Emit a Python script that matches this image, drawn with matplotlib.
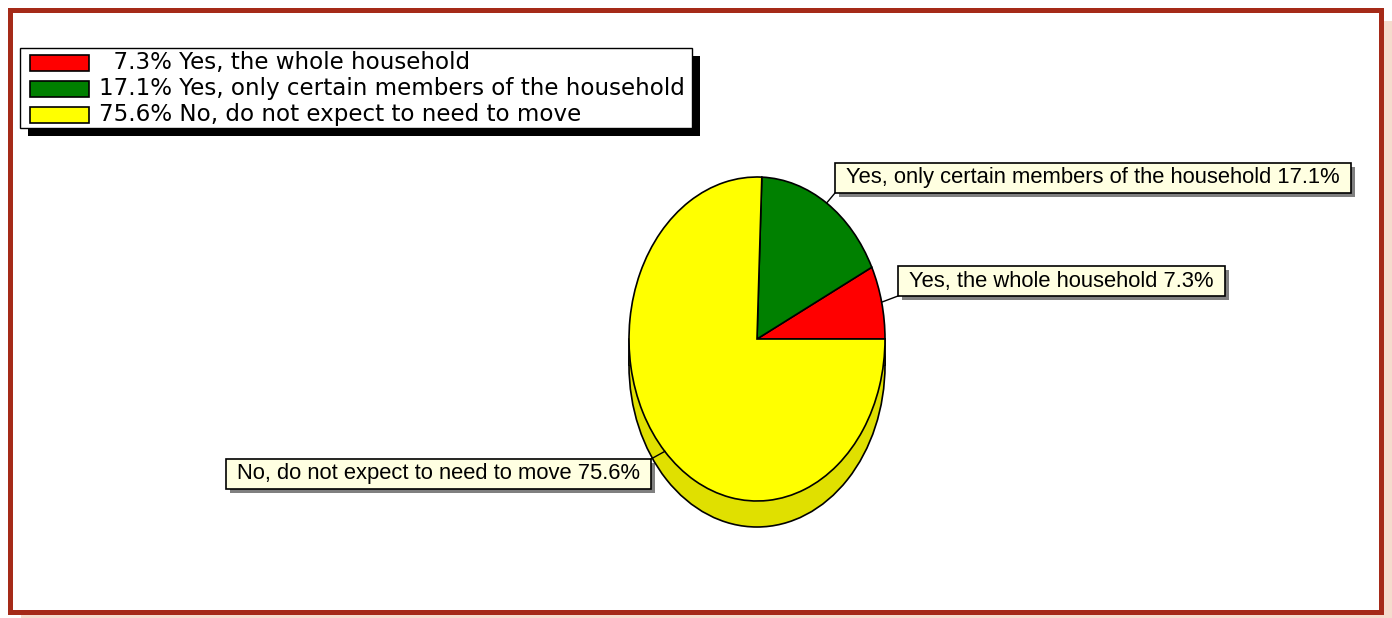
import numpy as np
import matplotlib
matplotlib.use("Agg")
import matplotlib.pyplot as plt
from matplotlib.patches import Rectangle, Ellipse

# survey answers and their shares (%)
answers = ["Yes, the whole household",
           "Yes, only certain members of the household",
           "No, do not expect to need to move"]
shares = [7.3, 17.1, 75.6]
colors = ["#ff0000", "#008000", "#ffff00"]

W, H = 1392, 618
fig = plt.figure(figsize=(W / 100, H / 100), dpi=100)

# -----------------------------
# background axes in pixel units (frame, legend, callouts)
# -----------------------------
bg = fig.add_axes([0, 0, 1, 1])
bg.set_xlim(0, W)
bg.set_ylim(H, 0)
bg.axis("off")

bg.add_patch(Rectangle((21, 21), W - 21, H - 21, fc="#f5dccd", ec="none"))
bg.add_patch(Rectangle((9.5, 9.5), 1371, 602, fc="white", ec="#a52a18", lw=3.6))

# legend box with a hard black drop shadow
bg.add_patch(Rectangle((28, 56), 672, 80, fc="black", ec="none"))
bg.add_patch(Rectangle((20, 48), 672, 80, fc="white", ec="black", lw=1))
for i, (name, v, c) in enumerate(zip(answers, shares, colors)):
    y = 63 + 26 * i
    bg.add_patch(Rectangle((30, y - 8), 59, 16, fc=c, ec="black", lw=1.2))
    pct = f"{v:.1f}%"
    pct = "  " * (5 - len(pct)) + pct
    bg.text(99, y, f"{pct} {name}", fontsize=16.55, family="DejaVu Sans",
            va="center", ha="left")

# -----------------------------
# pie: elliptical top face with a thin extruded side
# -----------------------------
cx, cy, rx, ry = 757, 339, 128, 162
depth = 26 / ry
xl, yl = (-1.3, 1.3), (-1.4, 1.3)
pie_ax = fig.add_axes([(cx + xl[0] * rx) / W, (H - cy + yl[0] * ry) / H,
                       (xl[1] - xl[0]) * rx / W, (yl[1] - yl[0]) * ry / H])

side = "#e0e000"
pie_ax.add_patch(Ellipse((0, -depth), 2, 2, fc=side, ec="black", lw=1.2, zorder=1))
pie_ax.add_patch(Rectangle((-1, -depth), 2, depth, fc=side, ec="none", zorder=1.5))
pie_ax.plot([-1, -1], [-depth, 0], color="black", lw=1.2, zorder=1.6)
pie_ax.plot([1, 1], [-depth, 0], color="black", lw=1.2, zorder=1.6)

wedges, _ = pie_ax.pie(shares, colors=colors, startangle=0, counterclock=True,
                       wedgeprops=dict(ec="black", lw=1.2, zorder=3))
pie_ax.set_aspect("auto")
pie_ax.set_xlim(*xl)
pie_ax.set_ylim(*yl)
pie_ax.axis("off")

# -----------------------------
# callout boxes with leader lines
# -----------------------------
callouts = [("left", 898, 281), ("left", 835, 178), ("right", 651, 474)]
pad = 11
renderer = fig.canvas.get_renderer()
to_bg = bg.transData.inverted()
to_pie = pie_ax.transData.inverted()
for w, name, v, (ha, x, y) in zip(wedges, answers, shares, callouts):
    tx = x + pad if ha == "left" else x - pad
    t = bg.text(tx, y, f"{name} {v:.1f}%", ha=ha, va="center", fontsize=15.85,
                family="Liberation Sans", zorder=5)
    bb = t.get_window_extent(renderer)
    (x0, _), (x1, _) = to_bg.transform([[bb.x0, bb.y0], [bb.x1, bb.y1]])
    left, right = x0 - pad, x1 + pad
    top, bot = y - 15, y + 15
    bg.add_patch(Rectangle((left + 4, top + 4), right - left, 30,
                           fc="#808080", ec="none", zorder=3))
    bg.add_patch(Rectangle((left, top), right - left, 30,
                           fc="#ffffe1", ec="black", lw=1.2, zorder=4))

    # leader from the rim at the wedge's middle angle to the nearest box point
    mid = np.deg2rad((w.theta1 + w.theta2) / 2)
    rim = (np.cos(mid), np.sin(mid))
    px, py = to_bg.transform(pie_ax.transData.transform(rim))
    ex = min(max(px, left), right)
    ey = min(max(py, top), bot)
    end = to_pie.transform(bg.transData.transform((ex, ey)))
    pie_ax.plot([rim[0], end[0]], [rim[1], end[1]], color="black", lw=1,
                zorder=4, clip_on=False)

fig.savefig("out.png", dpi=100)
